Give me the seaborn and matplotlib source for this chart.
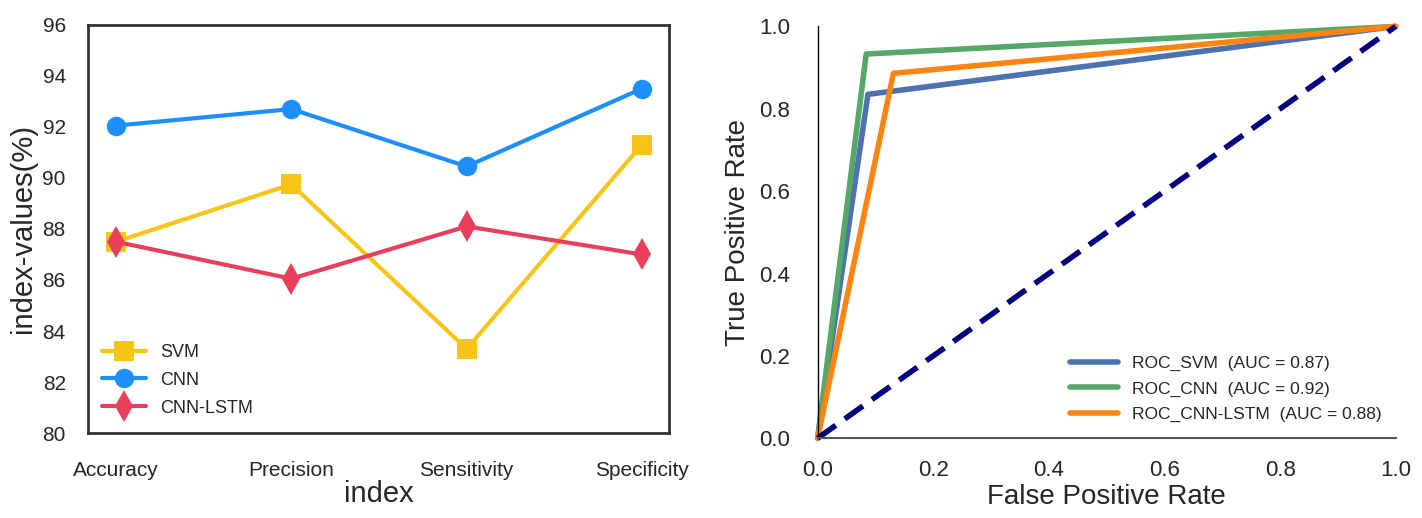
import numpy as np
import pandas as pd
import matplotlib
matplotlib.use('Agg')
import matplotlib.pyplot as plt
import seaborn as sns

# metric comparison data
metrics = ['Accuracy', 'Precision', 'Sensitivity', 'Specificity']
svm_vals = [87.5, 89.75, 83.3, 91.3]
cnn_vals = [92.05, 92.7, 90.45, 93.5]
lstm_vals = [87.5, 86.05, 88.1, 87.0]

# ROC points (fpr, tpr)
svm_fpr = [0.0, 0.087, 1.0]
svm_tpr = [0.0, 0.835, 1.0]
cnn_fpr = [0.0, 0.084, 1.0]
cnn_tpr = [0.0, 0.933, 1.0]
lstm_fpr = [0.0, 0.131, 1.0]
lstm_tpr = [0.0, 0.886, 1.0]
auc_labels = ['ROC_SVM  (AUC = 0.87)', 'ROC_CNN  (AUC = 0.92)', 'ROC_CNN-LSTM  (AUC = 0.88)']

sns.set_style('white')
plt.rcParams['font.family'] = ['Liberation Sans', 'DejaVu Sans']

fig = plt.figure(figsize=(14.22, 5.18), dpi=100)

# ---- left: metrics line plot
ax1 = fig.add_axes([0.0619, 0.164, 0.4086, 0.788])
series = [
    ('SVM', svm_vals, '#F7C518', 's', 14),
    ('CNN', cnn_vals, '#1E8FFF', 'o', 14),
    ('CNN-LSTM', lstm_vals, '#E8405C', 'd', 16),
]
for name, vals, col, mk, ms in series:
    df = pd.DataFrame({'index': metrics, 'value': vals})
    sns.lineplot(data=df, x='index', y='value', ax=ax1, color=col, marker=mk,
                 markersize=ms, markeredgewidth=0, linewidth=3, label=name, sort=False)
ax1.set_xlim(-0.16, 3.155)
ax1.set_ylim(80, 96)
ax1.set_yticks(range(80, 97, 2))
ax1.tick_params(axis='y', labelsize=15, pad=16, length=0)
ax1.tick_params(axis='x', labelsize=15, pad=20, length=0)
ax1.set_xlabel('index', fontsize=21, labelpad=0)
ax1.set_ylabel('index-values(%)', fontsize=21, labelpad=4)
for s in ax1.spines.values():
    s.set_color('#333333')
    s.set_linewidth(2)
ax1.legend(loc='lower left', frameon=False, fontsize=13, handlelength=2.4,
           borderaxespad=0.4, labelspacing=0.6, bbox_to_anchor=(0.0, 0.005))

# ---- right: ROC curves
ax2 = fig.add_axes([0.575, 0.154, 0.4065, 0.795])
rocs = [
    (svm_fpr, svm_tpr, '#4C72B0'),
    (cnn_fpr, cnn_tpr, '#55A868'),
    (lstm_fpr, lstm_tpr, '#FF8412'),
]
for (fpr, tpr, col), lab in zip(rocs, auc_labels):
    sns.lineplot(x=fpr, y=tpr, ax=ax2, color=col, linewidth=4, label=lab,
                 sort=False, estimator=None)
ax2.plot([0, 1], [0, 1], color='navy', linewidth=4, linestyle='--', dashes=(4, 2))
ax2.set_xlim(0, 1)
ax2.set_ylim(0, 1)
ax2.set_xticks(np.arange(0, 1.01, 0.2))
ax2.set_yticks(np.arange(0, 1.01, 0.2))
ax2.tick_params(labelsize=16, length=0, pad=16)
ax2.tick_params(axis='y', pad=20)
ax2.set_xlabel('False Positive Rate', fontsize=20, labelpad=2)
ax2.set_ylabel('True Positive Rate', fontsize=20, labelpad=6)
for ln in ax2.lines:
    ln.set_clip_on(False)
ax2.spines['top'].set_visible(False)
ax2.spines['right'].set_visible(False)
ax2.spines['left'].set_color('black')
ax2.spines['left'].set_linewidth(1)
ax2.spines['bottom'].set_color('#555555')
ax2.spines['bottom'].set_linewidth(1.5)
ax2.legend(loc='lower right', frameon=False, fontsize=12.5, handlelength=2.8,
           borderaxespad=0.4, labelspacing=0.6, bbox_to_anchor=(1.0, 0.005))

plt.savefig('out.png', dpi=100)
